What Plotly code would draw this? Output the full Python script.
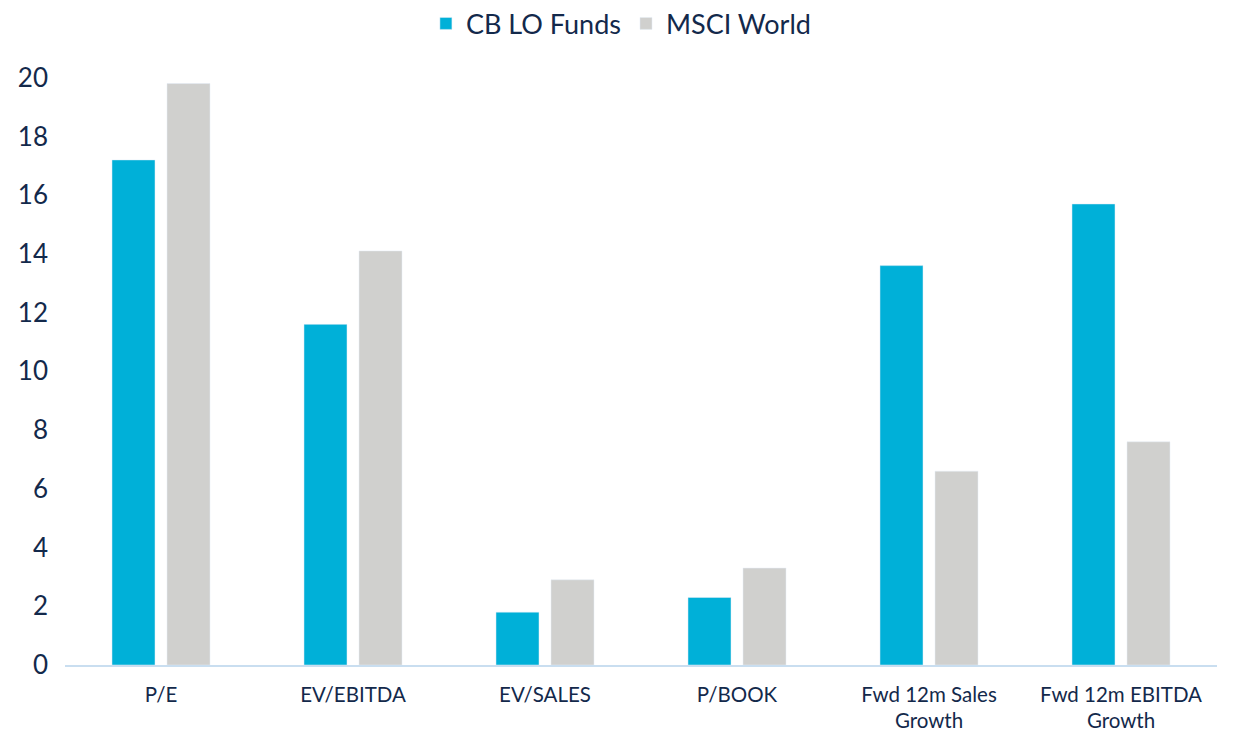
import plotly.graph_objects as go

categories = ["P/E", "EV/EBITDA", "EV/SALES", "P/BOOK", "Fwd 12m Sales<br>Growth", "Fwd 12m EBITDA<br>Growth"]
cb_lo_funds = [17.2, 11.6, 1.8, 2.3, 13.6, 15.7]
msci_world = [19.8, 14.1, 2.9, 3.3, 6.6, 7.6]
y_ticks = [0, 2, 4, 6, 8, 10, 12, 14, 16, 18, 20]

text_color = "#13294b"
font_family = "Lato, Noto Sans, sans-serif"

fig = go.Figure()
fig.add_trace(go.Bar(name="CB LO Funds", x=categories, y=cb_lo_funds, marker_color="#00b0d8"))
fig.add_trace(go.Bar(name="MSCI World", x=categories, y=msci_world, marker_color="#d0d0ce"))

# page body has an 8px default margin; margins compensate for it
fig.update_layout(
    width=1242, height=735,
    margin=dict(l=57, r=33, t=55, b=78, autoexpand=False),
    paper_bgcolor="white", plot_bgcolor="white",
    barmode="group", bargap=0.427, bargroupgap=0.218,
    font=dict(family=font_family, color=text_color, size=22),
    legend=dict(orientation="h", x=0.483, xanchor="center", y=1.065, yref="paper",
                yanchor="middle", font=dict(size=27, color=text_color), traceorder="normal"),
    showlegend=True,
)
fig.update_xaxes(showline=True, linecolor="#c9def0", linewidth=2, showgrid=False,
                 ticks="", tickfont=dict(size=20.5, color=text_color), automargin=False,
                 ticklabelstandoff=10)
fig.update_yaxes(range=[0, 20.5], tickvals=y_ticks, showgrid=False, zeroline=False,
                 showline=False, ticks="", tickfont=dict(size=26, color=text_color),
                 ticklabelstandoff=16, automargin=False)

fig.write_html("out.html")
